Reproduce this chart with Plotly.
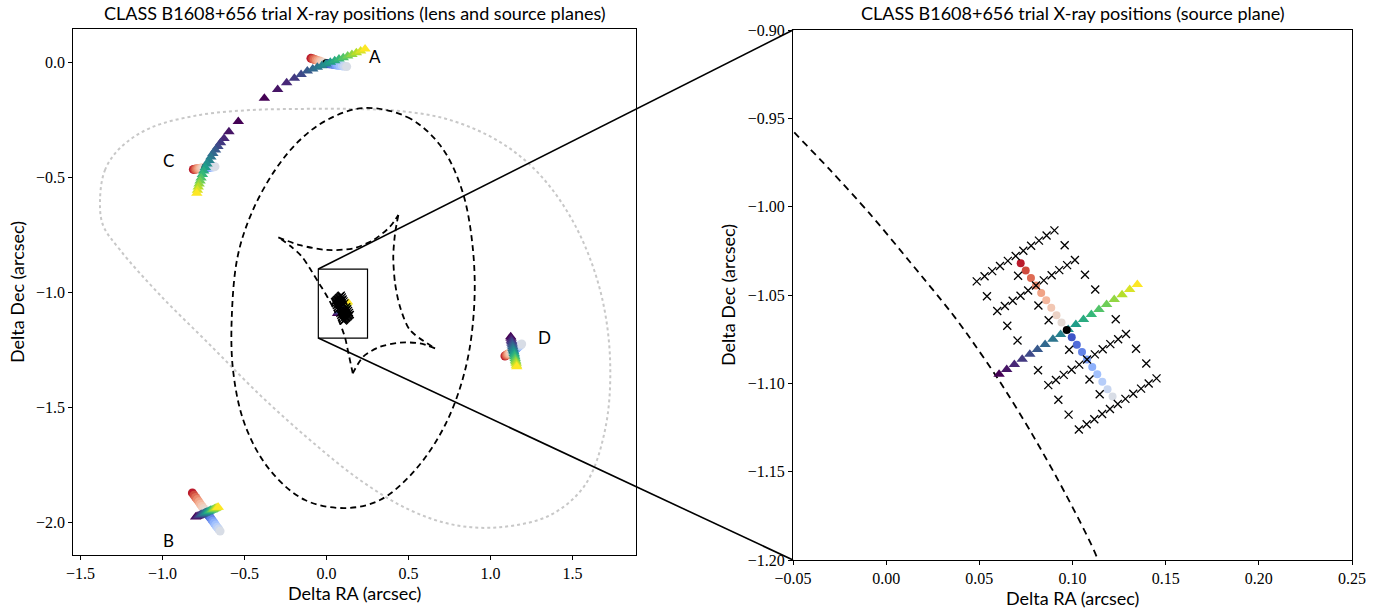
import plotly.graph_objects as go

# ---------------- data ----------------
# source plane: circle track (19, centre = index 9), triangle track (19)
src_circ_x = [0.0722, 0.0749, 0.0777, 0.0804, 0.0832, 0.0859, 0.0886, 0.0914, 0.0941, 0.0969,
              0.0996, 0.1023, 0.1051, 0.1078, 0.1106, 0.1133, 0.1160, 0.1188, 0.1215]
src_circ_y = [-1.0320, -1.0362, -1.0404, -1.0446, -1.0488, -1.0530, -1.0572, -1.0614, -1.0656, -1.0698,
              -1.0739, -1.0781, -1.0823, -1.0865, -1.0907, -1.0949, -1.0991, -1.1033, -1.1075]
src_tri_x = [0.0606, 0.0647, 0.0688, 0.0730, 0.0771, 0.0812, 0.0853, 0.0895, 0.0936, 0.0977,
             0.1018, 0.1059, 0.1101, 0.1142, 0.1183, 0.1224, 0.1266, 0.1307, 0.1348]
src_tri_y = [-1.0949, -1.0921, -1.0893, -1.0864, -1.0836, -1.0808, -1.0780, -1.0751, -1.0723, -1.0695,
             -1.0667, -1.0639, -1.0610, -1.0582, -1.0554, -1.0526, -1.0498, -1.0469, -1.0441]

# source plane: trial grid (crosses)
grid_x = [0.0486, 0.0528, 0.0569, 0.0611, 0.0653, 0.0695, 0.0736, 0.0778, 0.0820, 0.0861, 0.0903,
          0.0596, 0.0637, 0.0679, 0.0721, 0.0762, 0.0804, 0.0846, 0.0888, 0.0929, 0.0971, 0.1013,
          0.0870, 0.0911, 0.0953, 0.0995, 0.1036, 0.1078, 0.1120, 0.1162, 0.1203, 0.1245, 0.1287,
          0.1034, 0.1076, 0.1117, 0.1159, 0.1201, 0.1243, 0.1284, 0.1326, 0.1368, 0.1409, 0.1451,
          0.0541, 0.0708, 0.0958, 0.0650, 0.0817, 0.1067, 0.0705, 0.0872, 0.1122,
          0.0815, 0.0982, 0.1232, 0.0924, 0.1091, 0.1341, 0.0979, 0.1146, 0.1396]
grid_y = [-1.0423, -1.0394, -1.0365, -1.0336, -1.0307, -1.0279, -1.0250, -1.0221, -1.0192, -1.0163, -1.0134,
          -1.0591, -1.0562, -1.0533, -1.0504, -1.0475, -1.0446, -1.0417, -1.0388, -1.0359, -1.0331, -1.0302,
          -1.1010, -1.0981, -1.0952, -1.0923, -1.0894, -1.0865, -1.0836, -1.0807, -1.0778, -1.0750, -1.0721,
          -1.1261, -1.1232, -1.1203, -1.1174, -1.1145, -1.1117, -1.1088, -1.1059, -1.1030, -1.1001, -1.0972,
          -1.0507, -1.0391, -1.0218, -1.0674, -1.0559, -1.0385, -1.0758, -1.0643, -1.0469,
          -1.0926, -1.0810, -1.0637, -1.1093, -1.0978, -1.0804, -1.1177, -1.1062, -1.0888]

# lens plane images
A_circ_x = [-0.095, -0.084, -0.074, -0.063, -0.053, -0.042, -0.032, -0.021, -0.011, 0.000,
            0.014, 0.027, 0.041, 0.055, 0.068, 0.082, 0.096, 0.109, 0.123]
A_circ_y = [0.016, 0.014, 0.011, 0.009, 0.006, 0.004, 0.001, -0.001, -0.004, -0.006,
            -0.008, -0.009, -0.011, -0.012, -0.014, -0.015, -0.017, -0.018, -0.020]
A_tri_x = [-0.379, -0.298, -0.243, -0.196, -0.155, -0.117, -0.084, -0.056, -0.029, -0.003,
           0.023, 0.050, 0.076, 0.102, 0.129, 0.155, 0.182, 0.208, 0.235]
A_tri_y = [-0.158, -0.119, -0.090, -0.071, -0.054, -0.039, -0.030, -0.023, -0.016, -0.009,
           -0.001, 0.006, 0.013, 0.019, 0.026, 0.033, 0.040, 0.048, 0.057]

B_circ_x = [-0.818, -0.808, -0.798, -0.788, -0.778, -0.769, -0.759, -0.749, -0.739, -0.729,
            -0.720, -0.711, -0.702, -0.693, -0.685, -0.676, -0.667, -0.658, -0.649]
B_circ_y = [-1.873, -1.883, -1.893, -1.902, -1.912, -1.922, -1.932, -1.941, -1.951, -1.959,
            -1.970, -1.978, -1.987, -1.996, -2.004, -2.013, -2.022, -2.030, -2.039]
B_tri_x = [-0.798, -0.790, -0.783, -0.775, -0.767, -0.760, -0.752, -0.744, -0.737, -0.729,
           -0.721, -0.714, -0.706, -0.698, -0.691, -0.683, -0.675, -0.667, -0.660]
B_tri_y = [-1.978, -1.976, -1.973, -1.971, -1.968, -1.966, -1.964, -1.961, -1.959, -1.956,
           -1.954, -1.952, -1.949, -1.947, -1.945, -1.942, -1.940, -1.937, -1.935]

C_circ_x = [-0.812, -0.803, -0.795, -0.786, -0.778, -0.769, -0.761, -0.752, -0.744, -0.735,
            -0.729, -0.723, -0.717, -0.711, -0.705, -0.698, -0.692, -0.686, -0.680]
C_circ_y = [-0.467, -0.466, -0.465, -0.464, -0.463, -0.462, -0.461, -0.460, -0.459, -0.458,
            -0.458, -0.457, -0.457, -0.457, -0.456, -0.456, -0.456, -0.455, -0.455]
C_tri_x = [-0.538, -0.595, -0.625, -0.646, -0.662, -0.677, -0.693, -0.705, -0.716, -0.729,
           -0.739, -0.749, -0.757, -0.765, -0.771, -0.777, -0.782, -0.787, -0.791]
C_tri_y = [-0.259, -0.303, -0.332, -0.351, -0.367, -0.383, -0.398, -0.413, -0.428, -0.443,
           -0.459, -0.474, -0.489, -0.504, -0.517, -0.530, -0.543, -0.557, -0.571]

D_circ_x = [1.088, 1.094, 1.099, 1.105, 1.110, 1.116, 1.121, 1.127, 1.132, 1.138,
            1.144, 1.150, 1.155, 1.161, 1.167, 1.173, 1.179, 1.184, 1.190]
D_circ_y = [-1.278, -1.276, -1.273, -1.271, -1.268, -1.266, -1.264, -1.261, -1.259, -1.256,
            -1.253, -1.249, -1.246, -1.243, -1.239, -1.236, -1.233, -1.229, -1.226]
D_tri_x = [1.123, 1.125, 1.127, 1.129, 1.131, 1.133, 1.135, 1.137, 1.139, 1.142,
           1.144, 1.146, 1.148, 1.150, 1.152, 1.154, 1.156, 1.158, 1.160]
D_tri_y = [-1.194, -1.201, -1.209, -1.216, -1.223, -1.230, -1.238, -1.245, -1.252, -1.260,
           -1.267, -1.274, -1.281, -1.289, -1.296, -1.303, -1.310, -1.318, -1.325]

image_names = ["A", "B", "C", "D"]

# critical curve (dashed, lens plane)
crit_x = [0.223, 0.491, 0.692, 0.826, 0.893, 0.899, 0.845, 0.723, 0.540, 0.326, 0.113,
          -0.131, -0.345, -0.497, -0.570, -0.576, -0.540, -0.454, -0.314, -0.162, 0.003, 0.223]
crit_y = [-0.200, -0.239, -0.361, -0.557, -0.817, -1.078, -1.339, -1.578, -1.774, -1.904, -1.939,
          -1.904, -1.774, -1.578, -1.339, -1.078, -0.839, -0.652, -0.470, -0.339, -0.252, -0.200]

# caustic (dashed, source plane) - four cusp-to-cusp arcs
caus_x = [-0.294, -0.162, 0.001, 0.163, 0.285, 0.387, 0.438, None,
          0.438, 0.418, 0.407, 0.418, 0.448, 0.509, 0.662, None,
          0.662, 0.570, 0.448, 0.326, 0.224, 0.160, None,
          0.160, 0.135, 0.1137, 0.0960, 0.0781, 0.0611, 0.0432, 0.0343, 0.0128, -0.0087,
          -0.0301, -0.0500, -0.1000, -0.1500, -0.2200, -0.294]
caus_y = [-0.762, -0.796, -0.817, -0.810, -0.774, -0.716, -0.665, None,
          -0.665, -0.745, -0.846, -0.962, -1.064, -1.165, -1.245, None,
          -1.245, -1.223, -1.220, -1.238, -1.281, -1.353, None,
          -1.353, -1.270, -1.2000, -1.1621, -1.1283, -1.0992, -1.0717, -1.0591, -1.0313, -1.0041,
          -0.9792, -0.9572, -0.8990, -0.8460, -0.8000, -0.762]

# outer dotted curve (lens plane)
outer_x = [-1.381, -1.351, -1.259, -1.076, -0.771, -0.466, -0.162, 0.143, 0.448, 0.753, 1.058,
           1.302, 1.515, 1.668, 1.729, 1.698, 1.576, 1.363, 1.058, 0.784, 0.509, 0.204, -0.101,
           -0.405, -0.710, -1.015, -1.259, -1.363, -1.381]
outer_y = [-0.600, -0.470, -0.374, -0.287, -0.230, -0.209, -0.204, -0.204, -0.213, -0.252, -0.348,
           -0.491, -0.709, -0.991, -1.296, -1.600, -1.839, -1.970, -2.022, -2.013, -1.948, -1.817, -1.643,
           -1.448, -1.230, -1.013, -0.817, -0.709, -0.600]

# axis ticks
left_xticks = [-1.5, -1.0, -0.5, 0.0, 0.5, 1.0, 1.5]
left_xlabels = ["\u22121.5", "\u22121.0", "\u22120.5", "0.0", "0.5", "1.0", "1.5"]
left_yticks = [0.0, -0.5, -1.0, -1.5, -2.0]
left_ylabels = ["0.0", "\u22120.5", "\u22121.0", "\u22121.5", "\u22122.0"]
right_xticks = [-0.05, 0.0, 0.05, 0.10, 0.15, 0.20, 0.25]
right_xlabels = ["\u22120.05", "0.00", "0.05", "0.10", "0.15", "0.20", "0.25"]
right_yticks = [-0.90, -0.95, -1.00, -1.05, -1.10, -1.15, -1.20]
right_ylabels = ["\u22120.90", "\u22120.95", "\u22121.00", "\u22121.05", "\u22121.10", "\u22121.15", "\u22121.20"]

# ---------------- style ----------------
CIRC_COLORS = ["#bb1b2c", "#cf4a3d", "#de6b54", "#e9896c", "#f1a386", "#f4b79e", "#f2c7b3", "#ecd2c5", "#e5dad4",
               "#000000",
               "#3e55c8", "#506cd9", "#6484e8", "#789cf4", "#8db0fb", "#a2c1fd", "#b6cdf9", "#c8d6f0", "#d8dde6"]
TRI_IDX = list(range(len(src_tri_x)))
LEFT_RANGE_X = [-1.544, 1.887]
LEFT_RANGE_Y = [-2.143, 0.1435]
RIGHT_RANGE_X = [-0.05, 0.25]
RIGHT_RANGE_Y = [-1.2, -0.9]
LEFT_DOM_X = [73.3 / 1398, 636 / 1398]
LEFT_DOM_Y = [(613 - 555) / 613, (613 - 29) / 613]
RIGHT_DOM_X = [793 / 1398, 1352 / 1398]
RIGHT_DOM_Y = [(613 - 560) / 613, (613 - 30) / 613]

fig = go.Figure()


def add_common(xa, ya, circ_size, tri_size, x_size):
    # source-plane points
    fig.add_trace(go.Scatter(x=src_tri_x, y=src_tri_y, mode="markers", xaxis=xa, yaxis=ya,
                             marker=dict(symbol="triangle-up", size=tri_size, color=TRI_IDX,
                                         colorscale="Viridis", line=dict(width=0))))
    fig.add_trace(go.Scatter(x=src_circ_x, y=src_circ_y, mode="markers", xaxis=xa, yaxis=ya,
                             marker=dict(symbol="circle", size=circ_size, color=CIRC_COLORS,
                                         line=dict(width=0))))
    fig.add_trace(go.Scatter(x=grid_x, y=grid_y, mode="markers", xaxis=xa, yaxis=ya,
                             marker=dict(symbol="x-thin", size=x_size,
                                         line=dict(width=1.3, color="black"))))


# ---- left panel ----
fig.add_trace(go.Scatter(x=outer_x, y=outer_y, mode="lines", line=dict(color="#c8c8c8", width=2, dash="dot",
                         shape="spline", smoothing=1.0), xaxis="x", yaxis="y"))
fig.add_trace(go.Scatter(x=crit_x, y=crit_y, mode="lines", line=dict(color="black", width=1.8, dash="6px,4px",
                         shape="spline", smoothing=1.0), xaxis="x", yaxis="y"))
fig.add_trace(go.Scatter(x=caus_x, y=caus_y, mode="lines", connectgaps=False,
                         line=dict(color="black", width=1.8, dash="6px,4px", shape="spline", smoothing=0.8),
                         xaxis="x", yaxis="y"))

images = {
    "A": (A_circ_x, A_circ_y, A_tri_x, A_tri_y),
    "B": (B_circ_x, B_circ_y, B_tri_x, B_tri_y),
    "C": (C_circ_x, C_circ_y, C_tri_x, C_tri_y),
    "D": (D_circ_x, D_circ_y, D_tri_x, D_tri_y),
}
for name in image_names:
    cx, cy, tx, ty = images[name]
    fig.add_trace(go.Scatter(x=cx, y=cy, mode="markers", xaxis="x", yaxis="y",
                             marker=dict(symbol="circle", size=9, color=CIRC_COLORS, line=dict(width=0))))
    fig.add_trace(go.Scatter(x=tx, y=ty, mode="markers", xaxis="x", yaxis="y",
                             marker=dict(symbol="triangle-up", size=10, color=TRI_IDX,
                                         colorscale="Viridis", line=dict(width=0))))

add_common("x", "y", 7, 8, 7)

# ---- right panel ----
fig.add_trace(go.Scatter(x=caus_x, y=caus_y, mode="lines", connectgaps=False,
                         line=dict(color="black", width=1.8, dash="7px,5px", shape="spline", smoothing=0.8),
                         xaxis="x2", yaxis="y2"))
add_common("x2", "y2", 8, 10, 8)

tick_font = dict(family="Liberation Serif, DejaVu Serif, serif", size=16, color="black")
label_font = dict(family="Lato, DejaVu Sans, sans-serif", size=18, color="black")


def axis(dom, rng, tv, tt, anchor):
    return dict(domain=dom, range=rng, anchor=anchor, showline=True, mirror=True, linecolor="black",
                linewidth=1, ticks="outside", ticklen=4, tickwidth=1, tickcolor="black",
                showgrid=False, zeroline=False, tickvals=tv, ticktext=tt, tickfont=tick_font,
                automargin=False)


fig.update_layout(
    width=1398, height=613, showlegend=False, autosize=False,
    margin=dict(l=0, r=0, t=0, b=0, pad=0),
    paper_bgcolor="white", plot_bgcolor="white",
    xaxis=axis(LEFT_DOM_X, LEFT_RANGE_X, left_xticks, left_xlabels, "y"),
    yaxis=axis(LEFT_DOM_Y, LEFT_RANGE_Y, left_yticks, left_ylabels, "x"),
    xaxis2=axis(RIGHT_DOM_X, RIGHT_RANGE_X, right_xticks, right_xlabels, "y2"),
    yaxis2=axis(RIGHT_DOM_Y, RIGHT_RANGE_Y, right_yticks, right_ylabels, "x2"),
)

# inset rectangle on left panel
fig.add_shape(type="rect", xref="x", yref="y", x0=RIGHT_RANGE_X[0], x1=RIGHT_RANGE_X[1],
              y0=RIGHT_RANGE_Y[0], y1=RIGHT_RANGE_Y[1], line=dict(color="black", width=1.2))


def to_paper(v, rng, dom):
    return dom[0] + (v - rng[0]) / (rng[1] - rng[0]) * (dom[1] - dom[0])


for yv in RIGHT_RANGE_Y:
    x0p = to_paper(RIGHT_RANGE_X[0], LEFT_RANGE_X, LEFT_DOM_X)
    y0p = to_paper(yv, LEFT_RANGE_Y, LEFT_DOM_Y)
    x1p = to_paper(RIGHT_RANGE_X[0], RIGHT_RANGE_X, RIGHT_DOM_X)
    y1p = to_paper(yv, RIGHT_RANGE_Y, RIGHT_DOM_Y)
    fig.add_shape(type="line", xref="paper", yref="paper", x0=x0p, y0=y0p, x1=x1p, y1=y1p,
                  line=dict(color="black", width=1.6))

# image labels
label_pos = {"A": (0.296, 0.022), "B": (-0.966, -2.078), "C": (-0.966, -0.430), "D": (1.332, -1.196)}
for name in image_names:
    lx, ly = label_pos[name]
    fig.add_annotation(x=lx, y=ly, xref="x", yref="y", text=name, showarrow=False,
                       xanchor="center", yanchor="middle",
                       font=dict(family="Lato, DejaVu Sans, sans-serif", size=17, color="black"))

# titles and axis labels
lcx = (LEFT_DOM_X[0] + LEFT_DOM_X[1]) / 2
rcx = (RIGHT_DOM_X[0] + RIGHT_DOM_X[1]) / 2


def paper_text(px, py, text, angle=0):
    fig.add_annotation(x=px / 1398, y=1 - py / 613, xref="paper", yref="paper", showarrow=False,
                       xanchor="center", yanchor="middle", textangle=angle, text=text, font=label_font)


paper_text(lcx * 1398, 13, "CLASS B1608+656 trial X-ray positions (lens and source planes)")
paper_text(rcx * 1398, 13, "CLASS B1608+656 trial X-ray positions (source plane)")
paper_text(lcx * 1398, 593, "Delta RA (arcsec)")
paper_text(rcx * 1398, 598, "Delta RA (arcsec)")
paper_text(17, 292, "Delta Dec (arcsec)", -90)
paper_text(728, 295, "Delta Dec (arcsec)", -90)

fig.write_html("out.html", config={"displayModeBar": False},
               post_script="document.body.style.margin='0';document.body.style.overflow='hidden';")
